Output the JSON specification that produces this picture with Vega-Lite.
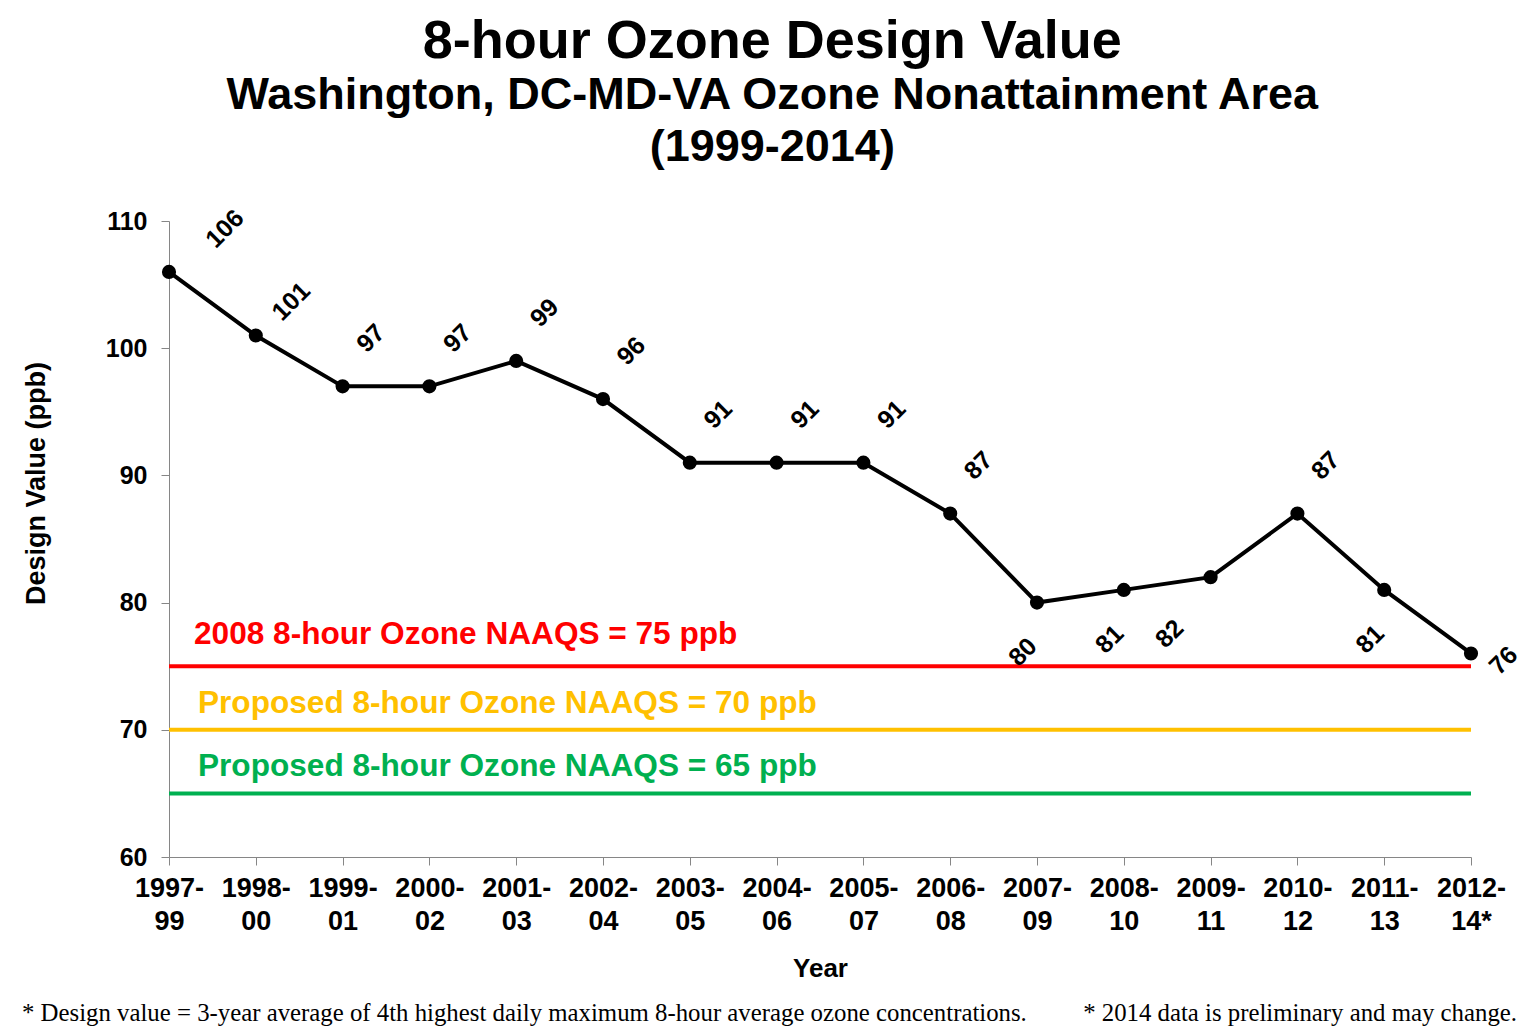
{
  "$schema": "https://vega.github.io/schema/vega-lite/v6.json",
  "width": 1302,
  "height": 636,
  "autosize": {"type": "none"},
  "padding": {"left": 169, "top": 221, "right": 59, "bottom": 177},
  "background": "white",
  "title": {
    "text": "8-hour Ozone Design Value",
    "subtitle": ["Washington, DC-MD-VA Ozone Nonattainment Area", "(1999-2014)"],
    "font": "Liberation Sans",
    "fontSize": 54,
    "fontWeight": "bold",
    "color": "black",
    "subtitleFont": "Liberation Sans",
    "subtitleFontSize": 45,
    "subtitleFontWeight": "bold",
    "subtitleColor": "black",
    "subtitleLineHeight": 52,
    "subtitlePadding": 4,
    "anchor": "middle",
    "frame": "bounds",
    "offset": 36
  },
  "config": {"view": {"stroke": null}, "font": "Liberation Sans"},
  "datasets": {
    "dv": [
      {"period": "1997-99", "value": 106},
      {"period": "1998-00", "value": 101},
      {"period": "1999-01", "value": 97},
      {"period": "2000-02", "value": 97},
      {"period": "2001-03", "value": 99},
      {"period": "2002-04", "value": 96},
      {"period": "2003-05", "value": 91},
      {"period": "2004-06", "value": 91},
      {"period": "2005-07", "value": 91},
      {"period": "2006-08", "value": 87},
      {"period": "2007-09", "value": 80},
      {"period": "2008-10", "value": 81},
      {"period": "2009-11", "value": 82},
      {"period": "2010-12", "value": 87},
      {"period": "2011-13", "value": 81},
      {"period": "2012-14*", "value": 76}
    ],
    "std": [
      {"label": "2008 8-hour Ozone NAAQS = 75 ppb", "value": 75},
      {"label": "Proposed 8-hour Ozone NAAQS = 70 ppb", "value": 70},
      {"label": "Proposed 8-hour Ozone NAAQS = 65 ppb", "value": 65}
    ]
  },
  "layer": [
    {
      "data": {"name": "dv"},
      "mark": {"type": "line", "color": "black", "strokeWidth": 4},
      "encoding": {
        "x": {
          "field": "period",
          "type": "ordinal",
          "sort": null,
          "scale": {"type": "point", "padding": 0, "domain": ["1997-99","1998-00","1999-01","2000-02","2001-03","2002-04","2003-05","2004-06","2005-07","2006-08","2007-09","2008-10","2009-11","2010-12","2011-13","2012-14*"]},
          "axis": {
            "title": "Year",
            "titleFontSize": 26,
            "titleFontWeight": "bold",
            "titleColor": "black",
            "titlePadding": 21,
            "labelFontSize": 27,
            "labelFontWeight": "bold",
            "labelColor": "black",
            "labelAngle": 0,
            "labelExpr": "[slice(datum.label, 0, 5), slice(datum.label, 5)]",
            "labelLineHeight": 33,
            "labelPadding": 10,
            "tickSize": 8,
            "tickColor": "#868686",
            "domainColor": "#868686",
            "grid": false
          }
        },
        "y": {
          "field": "value",
          "type": "quantitative",
          "scale": {"domain": [60, 110], "nice": false, "zero": false},
          "axis": {
            "title": "Design Value (ppb)",
            "titleFontSize": 27,
            "titleFontWeight": "bold",
            "titleColor": "black",
            "titleAngle": 270,
            "titleBaseline": "bottom",
            "titleX": -119,
            "titleY": 262,
            "labelFontSize": 25,
            "labelFontWeight": "bold",
            "labelColor": "black",
            "labelPadding": 14,
            "values": [60, 70, 80, 90, 100, 110],
            "tickSize": 8,
            "tickColor": "#868686",
            "domainColor": "#868686",
            "grid": false
          }
        }
      }
    },
    {
      "data": {"name": "std"},
      "mark": {"type": "rule", "strokeWidth": 4},
      "encoding": {
        "y": {"field": "value", "type": "quantitative"},
        "color": {"field": "label", "type": "nominal", "legend": null,
          "scale": {"domain": ["2008 8-hour Ozone NAAQS = 75 ppb", "Proposed 8-hour Ozone NAAQS = 70 ppb", "Proposed 8-hour Ozone NAAQS = 65 ppb"], "range": ["#FF0000", "#FFC000", "#00B050"]}}
      }
    },
    {
      "data": {"name": "std"},
      "transform": [{"filter": "datum.value == 75"}],
      "mark": {"type": "text", "align": "left", "baseline": "alphabetic", "fontSize": 31.6, "fontWeight": "bold", "dx": 25, "dy": -22},
      "encoding": {
        "x": {"datum": "1997-99", "type": "ordinal"},
        "y": {"field": "value", "type": "quantitative"},
        "text": {"field": "label"},
        "color": {"field": "label", "type": "nominal", "legend": null}
      }
    },
    {
      "data": {"name": "std"},
      "transform": [{"filter": "datum.value != 75"}],
      "mark": {"type": "text", "align": "left", "baseline": "alphabetic", "fontSize": 31.6, "fontWeight": "bold", "dx": 29, "dy": -17},
      "encoding": {
        "x": {"datum": "1997-99", "type": "ordinal"},
        "y": {"field": "value", "type": "quantitative"},
        "text": {"field": "label"},
        "color": {"field": "label", "type": "nominal", "legend": null}
      }
    },
    {
      "data": {"name": "dv"},
      "mark": {"type": "circle", "color": "black", "opacity": 1, "size": 200},
      "encoding": {
        "x": {"field": "period", "type": "ordinal"},
        "y": {"field": "value", "type": "quantitative"}
      }
    },
    {
      "data": {"name": "dv"},
      "transform": [{"filter": "datum.period == '1997-99'"}],
      "mark": {"type": "text", "angle": 315, "align": "center", "baseline": "middle", "fontSize": 25, "fontWeight": "bold", "color": "black", "dx": 70, "dy": 9},
      "encoding": {"x": {"field": "period", "type": "ordinal"}, "y": {"field": "value", "type": "quantitative"}, "text": {"field": "value"}}
    },
    {
      "data": {"name": "dv"},
      "transform": [{"filter": "datum.period == '1998-00'"}],
      "mark": {"type": "text", "angle": 315, "align": "center", "baseline": "middle", "fontSize": 25, "fontWeight": "bold", "color": "black", "dx": 49, "dy": 1},
      "encoding": {"x": {"field": "period", "type": "ordinal"}, "y": {"field": "value", "type": "quantitative"}, "text": {"field": "value"}}
    },
    {
      "data": {"name": "dv"},
      "transform": [{"filter": "indexof(['1999-01','2000-02','2001-03','2002-04','2003-05','2004-06','2005-07','2006-08','2010-12'], datum.period) >= 0"}],
      "mark": {"type": "text", "angle": 315, "align": "center", "baseline": "middle", "fontSize": 25, "fontWeight": "bold", "color": "black", "dx": 54, "dy": -14},
      "encoding": {"x": {"field": "period", "type": "ordinal"}, "y": {"field": "value", "type": "quantitative"}, "text": {"field": "value"}}
    },
    {
      "data": {"name": "dv"},
      "transform": [{"filter": "indexof(['2007-09','2008-10','2011-13'], datum.period) >= 0"}],
      "mark": {"type": "text", "angle": 315, "align": "center", "baseline": "middle", "fontSize": 25, "fontWeight": "bold", "color": "black", "dx": -45, "dy": 25},
      "encoding": {"x": {"field": "period", "type": "ordinal"}, "y": {"field": "value", "type": "quantitative"}, "text": {"field": "value"}}
    },
    {
      "data": {"name": "dv"},
      "transform": [{"filter": "datum.period == '2009-11'"}],
      "mark": {"type": "text", "angle": 315, "align": "center", "baseline": "middle", "fontSize": 25, "fontWeight": "bold", "color": "black", "dx": -69, "dy": 11},
      "encoding": {"x": {"field": "period", "type": "ordinal"}, "y": {"field": "value", "type": "quantitative"}, "text": {"field": "value"}}
    },
    {
      "data": {"name": "dv"},
      "transform": [{"filter": "datum.period == '2012-14*'"}],
      "mark": {"type": "text", "angle": 315, "align": "center", "baseline": "middle", "fontSize": 25, "fontWeight": "bold", "color": "black", "dx": 18, "dy": 28},
      "encoding": {"x": {"field": "period", "type": "ordinal"}, "y": {"field": "value", "type": "quantitative"}, "text": {"field": "value"}}
    },
    {
      "data": {"values": [{"note": "* Design value = 3-year average of 4th highest daily maximum 8-hour average ozone concentrations."}]},
      "mark": {"type": "text", "align": "left", "baseline": "alphabetic", "font": "Liberation Serif", "fontSize": 24.8, "color": "black", "dx": -147, "dy": 164},
      "encoding": {"x": {"datum": "1997-99", "type": "ordinal"}, "y": {"datum": 60, "type": "quantitative"}, "text": {"field": "note"}}
    },
    {
      "data": {"values": [{"note": "* 2014 data is preliminary and may change."}]},
      "mark": {"type": "text", "align": "right", "baseline": "alphabetic", "font": "Liberation Serif", "fontSize": 24.8, "color": "black", "dx": 46, "dy": 164},
      "encoding": {"x": {"datum": "2012-14*", "type": "ordinal"}, "y": {"datum": 60, "type": "quantitative"}, "text": {"field": "note"}}
    }
  ]
}
